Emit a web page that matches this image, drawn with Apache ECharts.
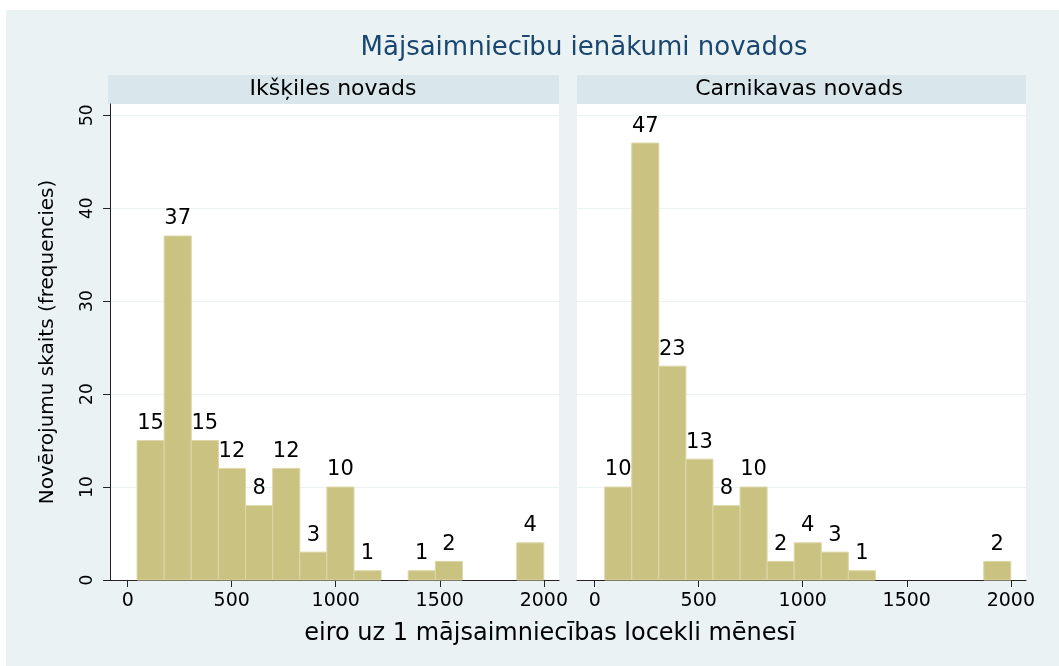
<!DOCTYPE html>
<html>
<head>
<meta charset="utf-8">
<script src="https://cdn.jsdelivr.net/npm/echarts@6/dist/echarts.min.js"></script>
<style>
  html, body { margin: 0; padding: 0; background: #ffffff; }
  #chart { width: 1059px; height: 666px; }
</style>
</head>
<body>
<div id="chart"></div>
<script>
// Histogram of household income per member, one panel per municipality
const chartTitle = 'Mājsaimniecību ienākumi novados';
const xAxisTitle = 'eiro uz 1 mājsaimniecības locekli mēnesī';
const yAxisTitle = 'Novērojumu skaits (frequencies)';
const panelNames = ['Ikšķiles novads', 'Carnikavas novads'];

// Bin edges (EUR) and counts per bin
const binEdgesIkskile = [45, 175.3, 305.7, 436, 566.3, 696.7, 827, 957.3, 1087.7, 1218, 1348.3, 1478.7, 1609, 1739.3, 1869.7, 2000];
const countsIkskile = [15, 37, 15, 12, 8, 12, 3, 10, 1, 0, 1, 2, 0, 0, 4];

const binEdgesCarnikava = [48, 178.1, 308.3, 438.4, 568.5, 698.7, 828.8, 958.9, 1089.1, 1219.2, 1349.3, 1479.5, 1609.6, 1739.7, 1869.9, 2000];
const countsCarnikava = [10, 47, 23, 13, 8, 10, 2, 4, 3, 1, 0, 0, 0, 0, 2];

const xTickValues = [0, 500, 1000, 1500, 2000];
const yTickValues = [0, 10, 20, 30, 40, 50];

const FONT = 'DejaVu Sans';
const BG = '#EAF2F3';
const STRIP = '#D9E6EB';
const BAR_FILL = '#C9C280';
const BAR_EDGE = '#DDD7A8';
const AXIS_COLOR = '#222222';

function toBins(edges, counts) {
  const rows = [];
  counts.forEach((n, i) => {
    if (n > 0) rows.push([edges[i], edges[i + 1], n]);
  });
  return rows;
}

function renderBin(params, api) {
  const lo = api.value(0), hi = api.value(1), n = api.value(2);
  const topLeft = api.coord([lo, n]);
  const bottomRight = api.coord([hi, 0]);
  return {
    type: 'group',
    children: [
      {
        type: 'rect',
        shape: {
          x: topLeft[0], y: topLeft[1],
          width: bottomRight[0] - topLeft[0],
          height: bottomRight[1] - topLeft[1]
        },
        style: { fill: BAR_FILL, stroke: BAR_EDGE, lineWidth: 1 }
      },
      {
        type: 'text',
        x: (topLeft[0] + bottomRight[0]) / 2,
        y: topLeft[1] - 17,
        style: {
          text: String(n),
          fontFamily: FONT, fontSize: 21, fill: '#000000',
          align: 'center', verticalAlign: 'middle'
        }
      }
    ]
  };
}

const grids = [
  { left: 110, top: 104, width: 449, height: 476 },
  { left: 577, top: 104, width: 449, height: 476 }
];

function makeXAxis(i) {
  return {
    type: 'value', gridIndex: i, min: -85, max: 2073,
    axisLine: { show: true, onZero: false, lineStyle: { color: AXIS_COLOR, width: 1 } },
    axisTick: { show: true, length: 7, customValues: xTickValues, lineStyle: { color: AXIS_COLOR, width: 1 } },
    axisLabel: {
      customValues: xTickValues, formatter: v => String(v),
      fontFamily: FONT, fontSize: 19, color: '#000000', margin: 12
    },
    splitLine: { show: false }
  };
}

function makeYAxis(i) {
  const first = i === 0;
  return {
    type: 'value', gridIndex: i, min: 0, max: 51.2, interval: 10,
    name: first ? yAxisTitle : '',
    nameLocation: 'middle', nameGap: 52,
    nameTextStyle: { fontFamily: FONT, fontSize: 20, color: '#000000' },
    axisLine: { show: first, onZero: false, lineStyle: { color: AXIS_COLOR, width: 1 } },
    axisTick: { show: first, length: 7, customValues: yTickValues, lineStyle: { color: AXIS_COLOR, width: 1 } },
    axisLabel: {
      show: first, customValues: yTickValues, formatter: v => String(v), rotate: 90,
      fontFamily: FONT, fontSize: 17, color: '#000000', margin: 14
    },
    splitLine: { show: true, lineStyle: { color: BG, width: 1 } }
  };
}

const chart = echarts.init(document.getElementById('chart'), null, { renderer: 'canvas' });

chart.setOption({
  backgroundColor: '#ffffff',
  animation: false,
  grid: grids.map(g => Object.assign({ show: true, backgroundColor: '#ffffff', borderWidth: 0 }, g)),
  xAxis: [makeXAxis(0), makeXAxis(1)],
  yAxis: [makeYAxis(0), makeYAxis(1)],
  graphic: [
    { type: 'rect', z: -100, shape: { x: 6, y: 10, width: 1053, height: 656 }, style: { fill: BG } },
    { type: 'rect', z: -90, shape: { x: 108, y: 75, width: 451, height: 29 }, style: { fill: STRIP } },
    { type: 'rect', z: -90, shape: { x: 577, y: 75, width: 449, height: 29 }, style: { fill: STRIP } },
    { type: 'text', x: 333, y: 89, style: { text: panelNames[0], fontFamily: FONT, fontSize: 22, fill: '#000000', align: 'center', verticalAlign: 'middle' } },
    { type: 'text', x: 799, y: 89, style: { text: panelNames[1], fontFamily: FONT, fontSize: 22, fill: '#000000', align: 'center', verticalAlign: 'middle' } },
    { type: 'text', x: 584, y: 48, style: { text: chartTitle, fontFamily: FONT, fontSize: 26, fill: '#1A476F', align: 'center', verticalAlign: 'middle' } },
    { type: 'text', x: 550, y: 634, style: { text: xAxisTitle, fontFamily: FONT, fontSize: 24, fill: '#000000', align: 'center', verticalAlign: 'middle' } }
  ],
  series: [
    { type: 'custom', xAxisIndex: 0, yAxisIndex: 0, renderItem: renderBin, encode: { x: [0, 1], y: 2 }, data: toBins(binEdgesIkskile, countsIkskile) },
    { type: 'custom', xAxisIndex: 1, yAxisIndex: 1, renderItem: renderBin, encode: { x: [0, 1], y: 2 }, data: toBins(binEdgesCarnikava, countsCarnikava) }
  ]
});
</script>
</body>
</html>
